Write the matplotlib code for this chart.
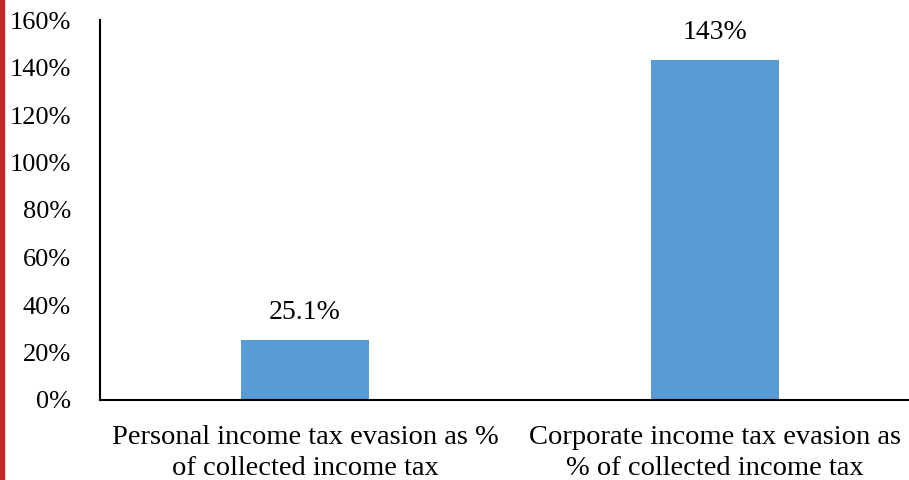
import matplotlib.pyplot as plt
import matplotlib.patches as mpatches
from matplotlib.ticker import FuncFormatter

categories = ["Personal income tax evasion as %\nof collected income tax",
              "Corporate income tax evasion as\n% of collected income tax"]
values = [25.1, 143]
labels = ["25.1%", "143%"]

plt.rcParams['font.family'] = ['Liberation Serif', 'DejaVu Serif']

fig = plt.figure(figsize=(9.09, 4.8), dpi=100)
ax = fig.add_axes([100/909, 80/480, 820/909, 380/480])

x = range(len(values))
bars = ax.bar(x, values, width=0.31, color="#5B9BD5")
for b, lab in zip(bars, labels):
    ax.text(b.get_x() + b.get_width()/2, b.get_height() + 6.5, lab,
            ha="center", va="bottom", fontsize=20)

ax.set_xlim(-0.5, 1.5)
ax.set_ylim(0, 160)
ax.set_yticks(range(0, 161, 20))
ax.yaxis.set_major_formatter(FuncFormatter(lambda v, p: "%d%%" % v))
ax.set_xticks(list(x))
ax.set_xticklabels(categories, fontsize=20.5, linespacing=1.3)
ax.tick_params(length=0)
ax.tick_params(axis="y", pad=21, labelsize=19)
ax.tick_params(axis="x", pad=18)
ax.spines["top"].set_visible(False)
ax.spines["right"].set_visible(False)
ax.spines["left"].set_linewidth(1.5)
ax.spines["bottom"].set_linewidth(1.5)

# red strip on left edge
fig.patches.append(mpatches.Rectangle((0, 0), 4/909, 1, transform=fig.transFigure,
                                      color="#C0282A", zorder=0))

fig.savefig("out.png", dpi=100)
